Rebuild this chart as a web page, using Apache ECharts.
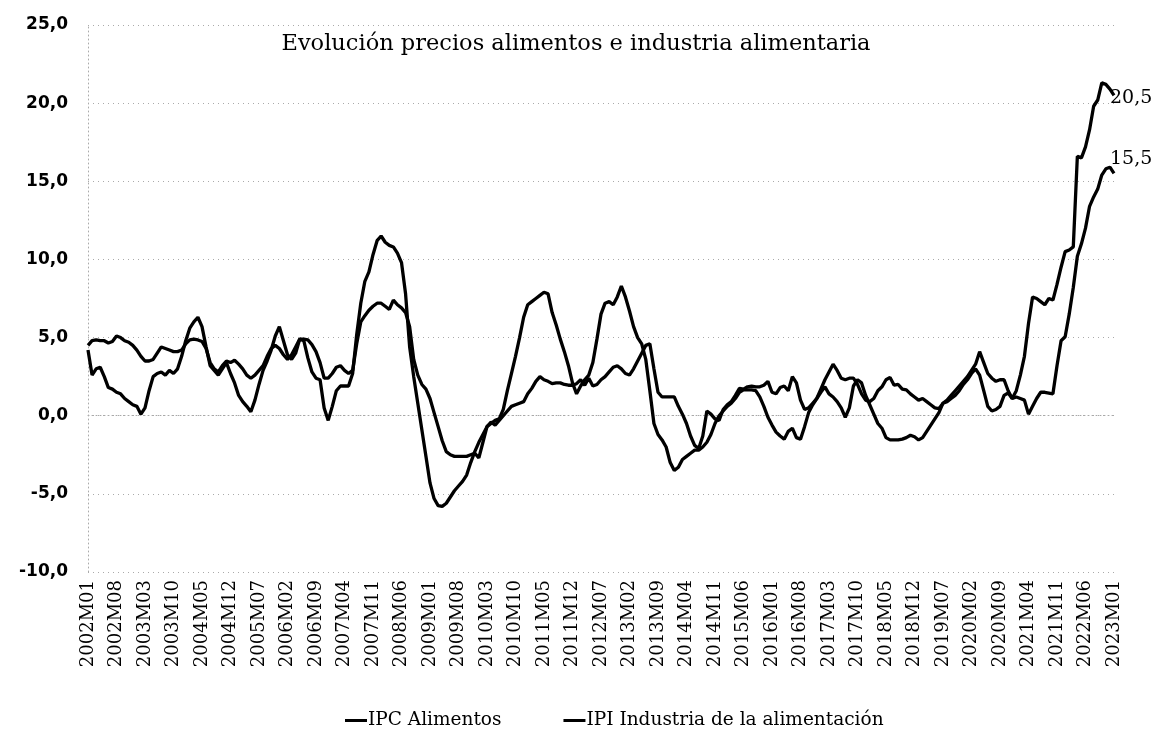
<!DOCTYPE html>
<html><head><meta charset="utf-8">
<script src="https://cdn.jsdelivr.net/npm/echarts@6/dist/echarts.min.js"></script>
<style>html,body{margin:0;padding:0;background:#fff}#c{width:1152px;height:730px}</style>
</head><body><div id="c"></div>
<script>
// Monthly categories 2002M01 .. 2023M01
const firstYear = 2002, lastYear = 2023, lastMonth = 1;
const categories = [];
for (let y = firstYear; y <= lastYear; y++) {
  for (let m = 1; m <= 12; m++) {
    if (y === lastYear && m > lastMonth) break;
    categories.push(y + 'M' + String(m).padStart(2, '0'));
  }
}

const titleText = 'Evolución precios alimentos e industria alimentaria';
const seriesNames = ['IPC Alimentos', 'IPI Industria de la alimentación'];

// IPC Alimentos (annual rate, %)
const ipcValues = [
  4.5, 4.8, 4.85, 4.8, 4.8, 4.65, 4.75, 5.1, 5.0, 4.8, 4.7, 4.5,
  4.2, 3.8, 3.5, 3.5, 3.6, 4.0, 4.4, 4.3, 4.2, 4.1, 4.1, 4.2,
  4.6, 4.85, 4.9, 4.85, 4.75, 4.3, 3.4, 3.0, 2.8, 3.2, 3.5, 3.4,
  3.55, 3.3, 3.0, 2.6, 2.4, 2.6, 2.9, 3.2, 3.8, 4.3, 4.5, 4.3,
  3.9, 3.6, 3.9, 4.4, 4.9, 4.9, 4.85, 4.55, 4.1, 3.4, 2.4, 2.4,
  2.7, 3.1, 3.2, 2.9, 2.7, 2.9, 4.6, 6.0, 6.4, 6.75, 7.0, 7.2,
  7.2, 7.0, 6.8, 7.4, 7.1, 6.9, 6.6, 5.7, 3.6, 2.6, 2.0, 1.7,
  1.1, 0.2, -0.7, -1.6, -2.3, -2.5, -2.6, -2.6, -2.6, -2.6, -2.5, -2.4,
  -2.7, -1.7, -0.7, -0.4, -0.6, -0.3, 0.0, 0.3, 0.6, 0.7, 0.8, 0.9,
  1.4, 1.75, 2.2, 2.5, 2.3, 2.2, 2.05, 2.1, 2.1, 2.0, 1.95, 1.95,
  2.05, 2.3, 1.95, 2.4, 1.9, 2.0, 2.3, 2.5, 2.8, 3.1, 3.2, 3.0,
  2.7, 2.6, 3.0, 3.5, 4.0, 4.5, 4.6, 3.0, 1.5, 1.2, 1.2, 1.2,
  1.2, 0.6, 0.1, -0.5, -1.3, -1.9, -2.1, -1.3, 0.3, 0.1, -0.2, -0.3,
  0.4, 0.7, 0.9, 1.3, 1.75, 1.7, 1.85, 1.9, 1.85, 1.85, 1.95, 2.2,
  1.5, 1.4, 1.8, 1.9, 1.6, 2.5, 2.1, 1.0, 0.4, 0.5, 0.8, 1.1,
  1.7, 2.3, 2.8, 3.3, 2.9, 2.4, 2.3, 2.4, 2.4, 2.0, 1.4, 1.0,
  0.9, 1.1, 1.6, 1.85, 2.3, 2.45, 1.95, 2.0, 1.7, 1.65, 1.4, 1.2,
  1.0, 1.1, 0.9, 0.7, 0.5, 0.45, 0.8, 1.0, 1.3, 1.6, 1.9, 2.2,
  2.5, 2.9, 3.3, 4.1, 3.4, 2.7, 2.4, 2.2, 2.3, 2.3, 1.6, 1.1,
  1.2, 1.1, 1.0, 0.1, 0.6, 1.1, 1.5, 1.5, 1.45, 1.4, 3.2, 4.8,
  5.05, 6.5, 8.2, 10.2, 11.0, 12.0, 13.4, 14.0, 14.5, 15.4, 15.8, 15.9,
  15.5
];

// IPI Industria de la alimentación (annual rate, %)
const ipiValues = [
  4.2, 2.6, 3.0, 3.1, 2.5, 1.8, 1.7, 1.5, 1.4, 1.1, 0.9, 0.7,
  0.6, 0.1, 0.5, 1.6, 2.5, 2.7, 2.8, 2.6, 2.9, 2.7, 3.0, 3.8,
  4.8, 5.6, 6.0, 6.3, 5.7, 4.4, 3.2, 2.9, 2.6, 3.0, 3.4, 2.7,
  2.1, 1.3, 0.9, 0.6, 0.25, 1.0, 2.0, 2.9, 3.5, 4.2, 5.1, 5.7,
  4.8, 3.9, 3.6, 4.0, 4.9, 4.8, 3.7, 2.8, 2.4, 2.3, 0.5, -0.3,
  0.6, 1.6, 1.9, 1.9, 1.9, 2.7, 5.2, 7.2, 8.6, 9.2, 10.3, 11.2,
  11.5, 11.1, 10.9, 10.8, 10.4, 9.8, 7.8, 4.4, 2.5, 0.8, -0.9, -2.6,
  -4.3, -5.3, -5.75, -5.8, -5.6, -5.2, -4.8, -4.5, -4.2, -3.8, -3.0, -2.3,
  -1.7, -1.2, -0.7, -0.5, -0.3, -0.2, 0.4, 1.6, 2.7, 3.8, 5.0, 6.3,
  7.1, 7.3, 7.5, 7.7, 7.9, 7.8, 6.6, 5.8, 4.9, 4.1, 3.2, 2.1,
  1.4, 1.9, 2.3, 2.6, 3.4, 4.9, 6.5, 7.2, 7.3, 7.1, 7.6, 8.3,
  7.6, 6.7, 5.7, 5.0, 4.6, 3.6, 1.6, -0.5, -1.2, -1.55, -2.0, -3.0,
  -3.5, -3.3, -2.8, -2.6, -2.4, -2.2, -2.2, -2.0, -1.7, -1.2, -0.5, 0.0,
  0.3, 0.6, 0.8, 1.1, 1.5, 1.65, 1.65, 1.65, 1.6, 1.2, 0.6, -0.1,
  -0.6, -1.05, -1.3, -1.5, -1.0, -0.8, -1.4, -1.5, -0.7, 0.2, 0.7, 1.1,
  1.5, 1.85, 1.4, 1.2, 0.9, 0.5, -0.1, 0.5, 1.9, 2.3, 2.1, 1.3,
  0.7, 0.1, -0.5, -0.8, -1.4, -1.55, -1.55, -1.55, -1.5, -1.4, -1.25, -1.35,
  -1.55, -1.4, -1.0, -0.6, -0.2, 0.2, 0.8, 0.9, 1.1, 1.3, 1.6, 2.0,
  2.3, 2.7, 3.0, 2.6, 1.6, 0.6, 0.3, 0.4, 0.6, 1.3, 1.45, 1.1,
  1.6, 2.6, 3.8, 5.9, 7.6, 7.5, 7.3, 7.1, 7.5, 7.4, 8.4, 9.5,
  10.5, 10.6, 10.8, 16.6, 16.5, 17.2, 18.3, 19.8, 20.2, 21.3, 21.2, 20.9,
  20.5
];

const yMin = -10, yMax = 25, yStep = 5;
const fmt = v => v.toFixed(1).replace('.', ',');
const serif = 'DejaVu Serif';

const chart = echarts.init(document.getElementById('c'), null, {renderer: 'canvas'});
chart.setOption({
  backgroundColor: '#ffffff',
  animation: false,
  title: {
    text: titleText,
    left: 'center',
    top: 28,
    textStyle: {fontFamily: serif, fontSize: 22.5, fontWeight: 'normal', color: '#000'}
  },
  legend: {
    data: seriesNames,
    top: 706,
    left: 340,
    icon: 'rect',
    itemWidth: 22,
    itemHeight: 3,
    itemGap: 62,
    textStyle: {fontFamily: serif, fontSize: 18.5, color: '#000', padding: [0, 0, 0, -4]}
  },
  grid: {left: 88, right: 38, top: 25, bottom: 158, containLabel: false},
  xAxis: {
    type: 'category',
    data: categories,
    boundaryGap: false,
    axisLine: {show: true, lineStyle: {color: '#aaa', type: [1, 3], width: 1}},
    axisTick: {show: false},
    splitLine: {show: false},
    axisLabel: {
      interval: 6,
      rotate: 90,
      margin: 8,
      fontFamily: serif,
      fontSize: 18,
      color: '#000'
    }
  },
  yAxis: {
    type: 'value',
    min: yMin,
    max: yMax,
    interval: yStep,
    axisLine: {show: true, lineStyle: {color: '#aaa', type: [1, 3], width: 1}},
    axisTick: {show: false},
    splitLine: {show: true, lineStyle: {color: '#aaa', type: [1, 4], width: 1}},
    axisLabel: {
      formatter: fmt,
      margin: 20,
      fontFamily: 'DejaVu Sans',
      fontWeight: 'bold',
      fontSize: 17,
      color: '#000'
    }
  },
  series: [
    {
      name: seriesNames[0],
      type: 'line',
      data: ipcValues,
      showSymbol: false,
      symbol: 'none',
      color: '#000',
      lineStyle: {color: '#000', width: 3.3},
      endLabel: {
        show: true,
        formatter: p => fmt(p.value),
        fontFamily: serif,
        fontSize: 19,
        color: '#000',
        distance: 2,
        offset: [-6, -14]
      }
    },
    {
      name: seriesNames[1],
      type: 'line',
      data: ipiValues,
      showSymbol: false,
      symbol: 'none',
      color: '#000',
      lineStyle: {color: '#000', width: 3.3},
      endLabel: {
        show: true,
        formatter: p => fmt(p.value),
        fontFamily: serif,
        fontSize: 19,
        color: '#000',
        distance: 2,
        offset: [-6, 3]
      }
    }
  ]
});
</script>
</body></html>
